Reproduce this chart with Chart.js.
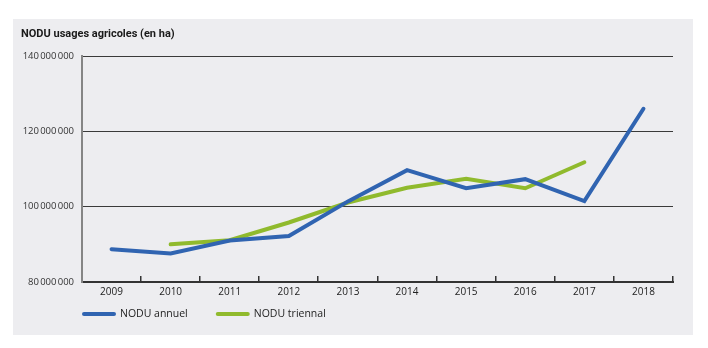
<!DOCTYPE html>
<html>
<head>
<meta charset="utf-8">
<script src="https://cdn.jsdelivr.net/npm/chart.js@4"></script>
<style>
  html, body { margin: 0; padding: 0; background: #fff; }
  #panel { position: absolute; left: 13px; top: 19px; width: 680px; height: 316px; background: #ededf0; }
  canvas { display: block; }
</style>
</head>
<body>
<div id="panel"><canvas id="nodu" width="680" height="316"></canvas></div>
<script>
const years = ['2009', '2010', '2011', '2012', '2013', '2014', '2015', '2016', '2017', '2018'];
const noduAnnuel = [88700000, 87600000, 91000000, 92200000, 101400000, 109700000, 104900000, 107300000, 101500000, 126000000];
const noduTriennal = [null, 90000000, 91100000, 95800000, 101100000, 105000000, 107400000, 104900000, 111800000, null];
const yTicks = [80000000, 100000000, 120000000, 140000000];

const blue = '#3064b1';
const green = '#90ba2d';
const textFont = "'Open Sans', 'Noto Sans', sans-serif";

// small tick marks between categories, pointing up from the x axis
const bandTicks = {
    id: 'bandTicks',
    afterDraw(chart) {
        const x = chart.scales.x;
        const ctx = chart.ctx;
        const n = years.length;
        const band = (x.right - x.left) / n;
        ctx.save();
        ctx.strokeStyle = '#333';
        ctx.lineWidth = 1.5;
        ctx.beginPath();
        for (let i = 1; i <= n; i++) {
            const px = Math.round(x.left + band * i) - 0.25;
            ctx.moveTo(px, x.top);
            ctx.lineTo(px, x.top - 6);
        }
        ctx.stroke();
        ctx.restore();
    }
};

// legend: thick line sample + label, aligned with the plot's left edge
const lineLegend = {
    id: 'lineLegend',
    afterDraw(chart) {
        const ctx = chart.ctx;
        let x = chart.chartArea.left;
        const y = 295;
        ctx.save();
        ctx.font = '10.5px ' + textFont;
        ctx.textBaseline = 'middle';
        chart.data.datasets.forEach(ds => {
            ctx.strokeStyle = ds.borderColor;
            ctx.lineWidth = 4;
            ctx.lineCap = 'round';
            ctx.beginPath();
            ctx.moveTo(x + 2, y);
            ctx.lineTo(x + 32, y);
            ctx.stroke();
            ctx.fillStyle = '#222';
            ctx.fillText(ds.label, x + 38, y);
            x += 38 + ctx.measureText(ds.label).width + 28;
        });
        ctx.restore();
    }
};

new Chart(document.getElementById('nodu'), {
    type: 'line',
    data: {
        labels: years,
        datasets: [{
            label: 'NODU annuel',
            data: noduAnnuel,
            borderColor: blue,
            backgroundColor: blue,
            borderWidth: 4,
            pointRadius: 0,
            borderCapStyle: 'round',
            tension: 0
        }, {
            label: 'NODU triennal',
            data: noduTriennal,
            borderColor: green,
            backgroundColor: green,
            borderWidth: 4,
            pointRadius: 0,
            borderCapStyle: 'round',
            tension: 0
        }]
    },
    options: {
        responsive: false,
        animation: false,
        layout: {
            padding: { left: 8, right: 20, top: 0, bottom: 37 }
        },
        plugins: {
            legend: { display: false },
            tooltip: { enabled: false },
            title: {
                display: true,
                text: 'NODU usages agricoles (en ha)',
                align: 'start',
                color: '#1a1a1a',
                font: { family: "Roboto, 'DejaVu Sans Condensed', sans-serif", size: 11, weight: 'bold' },
                padding: { top: 9, bottom: 14.8 }
            }
        },
        scales: {
            x: {
                offset: true,
                grid: { display: true, offset: true, drawOnChartArea: false, drawTicks: false, color: 'rgba(0,0,0,0)' },
                border: { display: true, color: '#333', width: 2 },
                ticks: { color: '#222', padding: 4, font: { family: textFont, size: 10 } },
                afterFit: s => { s.height = 16; }
            },
            y: {
                min: 80000000,
                max: 140000000,
                afterBuildTicks: s => { s.ticks = yTicks.map(v => ({ value: v })); },
                grid: { color: '#3a3a3a', lineWidth: 1, drawTicks: false },
                border: { display: true, color: '#858585', width: 2 },
                ticks: {
                    color: '#333',
                    padding: 8,
                    font: { family: textFont, size: 9.5 },
                    callback: v => String(v).replace(/\B(?=(\d{3})+(?!\d))/g, '\u202F')
                },
                afterFit: s => { s.width = 61; }
            }
        }
    },
    plugins: [bandTicks, lineLegend]
});
</script>
</body>
</html>
